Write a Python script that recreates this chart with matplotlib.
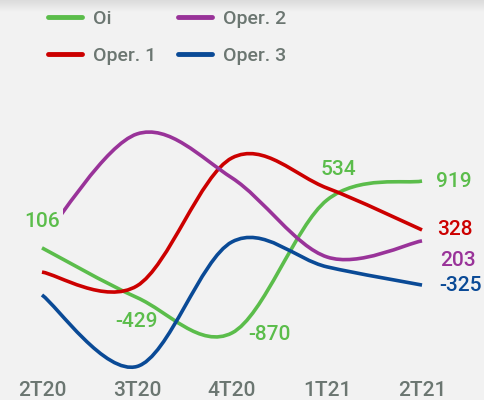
import numpy as np
import matplotlib.pyplot as plt
from matplotlib.path import Path
from matplotlib.patches import PathPatch, Rectangle
from matplotlib.lines import Line2D

# quarters and series (vertical position on a hidden 0-100 scale)
quarters = ['2T20', '3T20', '4T20', '1T21', '2T21']
series_names = ['Oi', 'Oper. 1', 'Oper. 2', 'Oper. 3']
oi = [50.8, 31.7, 18.1, 69.2, 76.5]
oper1 = [41.5, 36.2, 85.4, 73.8, 57.7]
oper2 = [53.8, 94.6, 77.7, 47.3, 53.5]
oper3 = [32.7, 5.2, 53.1, 43.5, 36.5]

# value labels shown on the chart
oi_labels = ['106', '-429', '-870', '534', '919']
end_labels = ['919', '328', '203', '-325']

colors = ['#5bbd4b', '#cc0000', '#993399', '#0a4a96']
bg = '#f2f2f2'
grey = '#6b7671'

plt.rcParams['font.family'] = ['Roboto', 'DejaVu Sans']


def cardinal_path(xs, ys):
    # catmull-rom spline through the points, as cubic bezier segments
    pts = np.column_stack([xs, ys]).astype(float)
    ext = np.vstack([pts[0], pts, pts[-1]])
    verts = [tuple(pts[0])]
    codes = [Path.MOVETO]
    for i in range(len(pts) - 1):
        p0, p1, p2, p3 = ext[i], ext[i + 1], ext[i + 2], ext[i + 3]
        c1 = p1 + (p2 - p0) / 6.0
        c2 = p2 - (p3 - p1) / 6.0
        verts += [tuple(c1), tuple(c2), tuple(p2)]
        codes += [Path.CURVE4] * 3
    return Path(verts, codes)


fig = plt.figure(figsize=(4.85, 4.0), dpi=100)
fig.patch.set_facecolor(bg)

# light shadow band along the top edge
shade = fig.add_axes([0, 1 - 12 / 400, 1, 12 / 400])
grad = np.linspace(0.86, 0.95, 50).reshape(-1, 1)
shade.imshow(np.dstack([grad, grad, grad]), aspect='auto', extent=[0, 1, 0, 1])
shade.axis('off')

ax = fig.add_axes([0, 25 / 400, 1, 363 / 400])
ax.set_facecolor(bg)
for s in ax.spines.values():
    s.set_visible(False)

x = np.arange(len(quarters))
all_series = [oi, oper1, oper2, oper3]
for k, (vals, c) in enumerate(zip(all_series, colors)):
    patch = PathPatch(cardinal_path(x, vals), facecolor='none',
                      edgecolor=c, lw=2.6, capstyle='butt', zorder=3)
    ax.add_patch(patch)
    if k == 2:
        # Oper. 2 is only drawn from a little after the first quarter
        clip = Rectangle((0.22, -100), 10, 400, transform=ax.transData)
        patch.set_clip_path(clip)

ax.set_xlim(-0.442, 4.663)
ax.set_ylim(1.92, 141.5)
ax.set_yticks([])
ax.set_xticks(x)
ax.set_xticklabels(quarters, fontsize=15, color=grey, fontweight='medium')
ax.tick_params(axis='x', length=0, pad=4)

# labels on the Oi line
oi_offsets = [(0, 19), (0, -17), (27, -1), (8, 22), (23, 0)]
for i, (lab, off) in enumerate(zip(oi_labels[:4], oi_offsets[:4])):
    ax.annotate(lab, (x[i], oi[i]), xytext=off, textcoords='offset points',
                ha='center', va='center', fontsize=15, color=colors[0],
                fontweight='medium')

# labels at the end of each line
end_offsets = [(23, 0), (24, 0), (26, -14), (28, 0)]
for vals, lab, off, c in zip(all_series, end_labels, end_offsets, colors):
    ax.annotate(lab, (x[-1], vals[-1]), xytext=off, textcoords='offset points',
                ha='center', va='center', fontsize=15, color=c,
                fontweight='medium')

handles = [Line2D([], [], color=c, lw=3.5, solid_capstyle='round') for c in colors]
fig.legend(handles, series_names,
           ncol=2, loc='upper left', bbox_to_anchor=(0.062, 1.02),
           frameon=False, fontsize=14, labelcolor=grey, handlelength=1.75,
           handletextpad=0.57, columnspacing=1.14, labelspacing=1.0,
           prop={'weight': 'medium', 'size': 14})

fig.savefig('out.png', dpi=100, facecolor=bg)
